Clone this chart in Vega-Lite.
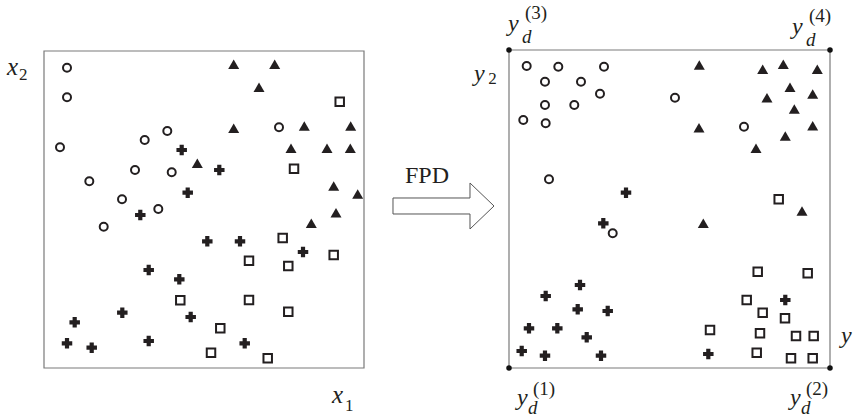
{
  "$schema": "https://vega.github.io/schema/vega-lite/v6.json",
  "padding": 0,
  "background": "white",
  "config": {"view": {"stroke": null}, "concat": {"spacing": 0}},
  "spacing": 0,
  "datasets": {
    "L": [
      {"c":"circle","u":7.19,"v":94.73},{"c":"circle","u":7.19,"v":85.39},{"c":"circle","u":5.0,"v":69.62},{"c":"circle","u":31.47,"v":71.92},{"c":"circle","u":38.53,"v":74.76},{"c":"circle","u":14.16,"v":58.9},{"c":"circle","u":28.44,"v":62.46},{"c":"circle","u":39.91,"v":61.74},{"c":"circle","u":24.38,"v":53.22},{"c":"circle","u":35.72,"v":50.16},{"c":"circle","u":18.66,"v":44.57},{"c":"circle","u":73.44,"v":75.93},
      {"c":"plus","u":43.03,"v":68.77},{"c":"plus","u":44.91,"v":55.3},{"c":"plus","u":54.78,"v":62.46},{"c":"plus","u":30.09,"v":48.26},{"c":"plus","u":32.72,"v":30.91},{"c":"plus","u":42.28,"v":27.98},{"c":"plus","u":45.84,"v":16.09},{"c":"plus","u":24.47,"v":17.44},{"c":"plus","u":9.59,"v":14.42},{"c":"plus","u":7.19,"v":7.79},{"c":"plus","u":14.91,"v":6.4},{"c":"plus","u":32.72,"v":8.52},{"c":"plus","u":51.03,"v":39.97},{"c":"plus","u":61.25,"v":39.97},{"c":"plus","u":80.94,"v":36.59},{"c":"plus","u":62.72,"v":7.79},
      {"c":"triangle","u":47.91,"v":64.57},{"c":"triangle","u":59.28,"v":95.8},{"c":"triangle","u":72.09,"v":95.8},{"c":"triangle","u":67.19,"v":88.55},{"c":"triangle","u":59.28,"v":75.62},{"c":"triangle","u":81.34,"v":76.34},{"c":"triangle","u":95.84,"v":76.34},{"c":"triangle","u":77.19,"v":69.31},{"c":"triangle","u":88.44,"v":69.31},{"c":"triangle","u":95.72,"v":69.31},{"c":"triangle","u":90.53,"v":57.41},{"c":"triangle","u":98.03,"v":54.89},{"c":"triangle","u":91.25,"v":48.99},{"c":"triangle","u":83.53,"v":45.65},
      {"c":"square","u":92.41,"v":84.01},{"c":"square","u":78.13,"v":62.87},{"c":"square","u":42.59,"v":21.36},{"c":"square","u":74.59,"v":41.01},{"c":"square","u":90.53,"v":35.65},{"c":"square","u":64.06,"v":33.85},{"c":"square","u":76.34,"v":32.18},{"c":"square","u":64.06,"v":21.45},{"c":"square","u":76.34,"v":17.76},{"c":"square","u":55.09,"v":12.52},{"c":"square","u":52.19,"v":4.83},{"c":"square","u":69.91,"v":3.06}
    ],
    "R": [
      {"c":"circle","u":5.51,"v":94.97},{"c":"circle","u":15.36,"v":94.75},{"c":"circle","u":29.6,"v":94.75},{"c":"circle","u":11.21,"v":90.03},{"c":"circle","u":22.43,"v":90.03},{"c":"circle","u":28.35,"v":86.26},{"c":"circle","u":11.21,"v":82.7},{"c":"circle","u":20.34,"v":82.7},{"c":"circle","u":4.45,"v":77.99},{"c":"circle","u":11.43,"v":76.95},{"c":"circle","u":12.46,"v":59.34},{"c":"circle","u":32.31,"v":42.36},{"c":"circle","u":51.71,"v":85.0},{"c":"circle","u":73.21,"v":75.88},
      {"c":"triangle","u":59.28,"v":95.28},{"c":"triangle","u":79.03,"v":93.93},{"c":"triangle","u":85.45,"v":95.5},{"c":"triangle","u":96.04,"v":93.93},{"c":"triangle","u":87.54,"v":88.27},{"c":"triangle","u":94.61,"v":86.16},{"c":"triangle","u":80.37,"v":85.0},{"c":"triangle","u":88.88,"v":81.45},{"c":"triangle","u":59.19,"v":75.57},{"c":"triangle","u":94.61,"v":76.19},{"c":"triangle","u":86.07,"v":72.96},{"c":"triangle","u":76.95,"v":69.09},{"c":"triangle","u":91.28,"v":49.37},{"c":"triangle","u":60.53,"v":45.5},
      {"c":"square","u":84.02,"v":53.05},{"c":"square","u":77.48,"v":30.28},{"c":"square","u":93.05,"v":29.78},{"c":"square","u":74.05,"v":21.38},{"c":"square","u":79.03,"v":17.39},{"c":"square","u":85.98,"v":15.63},{"c":"square","u":62.62,"v":11.95},{"c":"square","u":78.19,"v":10.91},{"c":"square","u":89.41,"v":10.06},{"c":"square","u":94.92,"v":10.06},{"c":"square","u":77.17,"v":4.81},{"c":"square","u":87.85,"v":3.05},{"c":"square","u":94.61,"v":3.05},
      {"c":"plus","u":36.45,"v":55.13},{"c":"plus","u":29.38,"v":45.5},{"c":"plus","u":22.12,"v":26.1},{"c":"plus","u":11.43,"v":22.64},{"c":"plus","u":21.4,"v":18.46},{"c":"plus","u":30.75,"v":17.92},{"c":"plus","u":6.23,"v":12.48},{"c":"plus","u":15.05,"v":12.48},{"c":"plus","u":24.21,"v":9.65},{"c":"plus","u":3.96,"v":5.35},{"c":"plus","u":11.21,"v":3.87},{"c":"plus","u":28.66,"v":3.87},{"c":"plus","u":86.07,"v":21.38},{"c":"plus","u":62.09,"v":4.4}
    ],
    "LT": [
      {"k":"it","t":"x","u":-11.56,"v":92.43},{"k":"num","t":"2","u":-7.8,"v":90.85},
      {"k":"it","t":"x","u":90,"v":-11.04},{"k":"num","t":"1","u":94.1,"v":-13.56}
    ],
    "RT": [
      {"k":"it","t":"y","u":-0.31,"v":105.97},{"k":"d","t":"d","u":4.05,"v":102.2},{"k":"sup","t":"(3)","u":4.98,"v":109.75},
      {"k":"it","t":"y","u":88.16,"v":105.0},{"k":"d","t":"d","u":92.52,"v":101.3},{"k":"sup","t":"(4)","u":93.46,"v":108.8},
      {"k":"it","t":"y","u":2.49,"v":-11.64},{"k":"d","t":"d","u":5.92,"v":-14.47},{"k":"sup","t":"(1)","u":7.48,"v":-8.49},
      {"k":"it","t":"y","u":87.54,"v":-11.64},{"k":"d","t":"d","u":90.97,"v":-14.47},{"k":"sup","t":"(2)","u":92.53,"v":-8.49},
      {"k":"it","t":"y","u":-10.9,"v":90.25},{"k":"num","t":"2","u":-6.5,"v":89.3},
      {"k":"it","t":"y","u":103.43,"v":7.86},
      {"k":"fpd","t":"FPD","u":-32.4,"v":58.18}
    ],
    "frame": [{"u":0,"v":0,"u2":100,"v2":100}],
    "corners": [{"u":0,"v":0},{"u":100,"v":0},{"u":0,"v":100},{"u":100,"v":100}],
    "arrow": [
      {"i":0,"u":-36.14,"v":53.46},{"i":1,"u":-12.15,"v":53.46},{"i":2,"u":-12.15,"v":58.18},{"i":3,"u":-4.67,"v":50.94},{"i":4,"u":-12.15,"v":43.71},{"i":5,"u":-12.15,"v":48.43},{"i":6,"u":-36.14,"v":48.43},{"i":7,"u":-36.14,"v":53.46}
    ]
  },
  "hconcat": [
    {
      "width": 385,
      "height": 417,
      "encoding": {
        "x": {"field":"u","type":"quantitative","scale":{"domain":[-13.75,106.5625],"nice":false,"zero":false},"axis":null},
        "y": {"field":"v","type":"quantitative","scale":{"domain":[-15.457,116.088],"nice":false,"zero":false},"axis":null}
      },
      "layer": [
        {"data":{"name":"frame"},"mark":{"type":"rect","filled":false,"stroke":"#7a7a7a","strokeWidth":1.2},"encoding":{"x2":{"field":"u2"},"y2":{"field":"v2"}}},
        {"data":{"name":"L"},"transform":[{"filter":"datum.c==='circle'"}],"mark":{"type":"point","shape":"circle","filled":false,"stroke":"#231f20","strokeWidth":2,"size":64,"opacity":1}},
        {"data":{"name":"L"},"transform":[{"filter":"datum.c==='square'"}],"mark":{"type":"point","shape":"square","filled":false,"stroke":"#231f20","strokeWidth":2,"size":72,"opacity":1}},
        {"data":{"name":"L"},"transform":[{"filter":"datum.c==='triangle'"}],"mark":{"type":"point","shape":"triangle-up","filled":true,"fill":"#231f20","size":121,"opacity":1}},
        {"data":{"name":"L"},"transform":[{"filter":"datum.c==='plus'"}],"mark":{"type":"point","shape":"cross","filled":true,"fill":"#231f20","size":110,"opacity":1}},
        {"data":{"name":"LT"},"transform":[{"filter":"datum.k==='it'"}],"mark":{"type":"text","font":"Liberation Serif, Times New Roman, serif","fontStyle":"italic","fontSize":25,"align":"left","baseline":"alphabetic","color":"#231f20"},"encoding":{"text":{"field":"t"}}},
        {"data":{"name":"LT"},"transform":[{"filter":"datum.k==='num'"}],"mark":{"type":"text","font":"Liberation Serif, Times New Roman, serif","fontSize":17,"align":"left","baseline":"alphabetic","color":"#231f20"},"encoding":{"text":{"field":"t"}}}
      ]
    },
    {
      "width": 469,
      "height": 417,
      "encoding": {
        "x": {"field":"u","type":"quantitative","scale":{"domain":[-38.629,107.477],"nice":false,"zero":false},"axis":null},
        "y": {"field":"v","type":"quantitative","scale":{"domain":[-15.409,115.723],"nice":false,"zero":false},"axis":null}
      },
      "layer": [
        {"data":{"name":"arrow"},"mark":{"type":"line","stroke":"#555555","strokeWidth":1,"interpolate":"linear"},"encoding":{"order":{"field":"i","type":"quantitative"}}},
        {"data":{"name":"frame"},"mark":{"type":"rect","filled":false,"stroke":"#7a7a7a","strokeWidth":1.2},"encoding":{"x2":{"field":"u2"},"y2":{"field":"v2"}}},
        {"data":{"name":"corners"},"mark":{"type":"point","shape":"circle","filled":true,"fill":"#111111","size":30,"opacity":1}},
        {"data":{"name":"R"},"transform":[{"filter":"datum.c==='circle'"}],"mark":{"type":"point","shape":"circle","filled":false,"stroke":"#231f20","strokeWidth":2,"size":64,"opacity":1}},
        {"data":{"name":"R"},"transform":[{"filter":"datum.c==='square'"}],"mark":{"type":"point","shape":"square","filled":false,"stroke":"#231f20","strokeWidth":2,"size":72,"opacity":1}},
        {"data":{"name":"R"},"transform":[{"filter":"datum.c==='triangle'"}],"mark":{"type":"point","shape":"triangle-up","filled":true,"fill":"#231f20","size":121,"opacity":1}},
        {"data":{"name":"R"},"transform":[{"filter":"datum.c==='plus'"}],"mark":{"type":"point","shape":"cross","filled":true,"fill":"#231f20","size":110,"opacity":1}},
        {"data":{"name":"RT"},"transform":[{"filter":"datum.k==='it'"}],"mark":{"type":"text","font":"Liberation Serif, Times New Roman, serif","fontStyle":"italic","fontSize":24,"align":"left","baseline":"alphabetic","color":"#231f20"},"encoding":{"text":{"field":"t"}}},
        {"data":{"name":"RT"},"transform":[{"filter":"datum.k==='d'"}],"mark":{"type":"text","font":"Liberation Serif, Times New Roman, serif","fontStyle":"italic","fontSize":19,"align":"left","baseline":"alphabetic","color":"#231f20"},"encoding":{"text":{"field":"t"}}},
        {"data":{"name":"RT"},"transform":[{"filter":"datum.k==='num'"}],"mark":{"type":"text","font":"Liberation Serif, Times New Roman, serif","fontSize":17,"align":"left","baseline":"alphabetic","color":"#231f20"},"encoding":{"text":{"field":"t"}}},
        {"data":{"name":"RT"},"transform":[{"filter":"datum.k==='sup'"}],"mark":{"type":"text","font":"Liberation Serif, Times New Roman, serif","fontSize":19,"align":"left","baseline":"alphabetic","color":"#231f20"},"encoding":{"text":{"field":"t"}}},
        {"data":{"name":"RT"},"transform":[{"filter":"datum.k==='fpd'"}],"mark":{"type":"text","font":"Liberation Serif, Times New Roman, serif","fontSize":24,"align":"left","baseline":"alphabetic","color":"#231f20"},"encoding":{"text":{"field":"t"}}}
      ]
    }
  ]
}
